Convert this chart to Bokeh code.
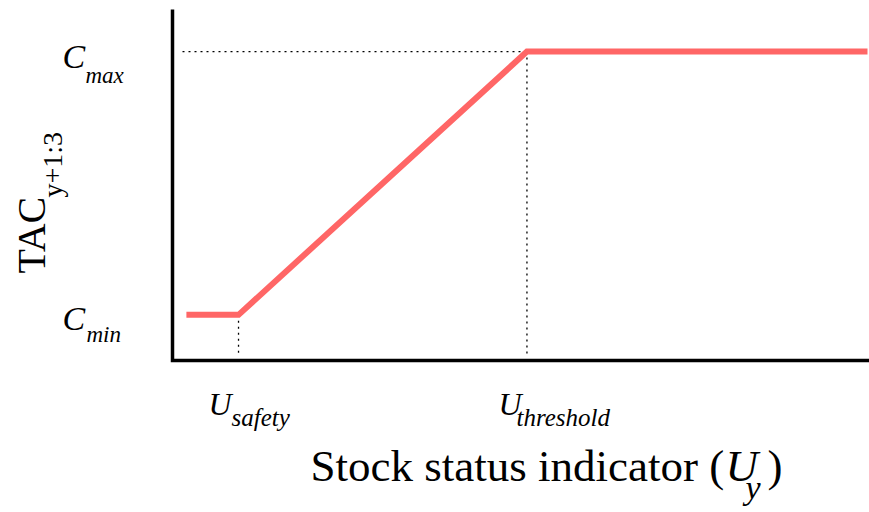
import math
from bokeh.plotting import figure
from bokeh.models import Label, Range1d
from bokeh.embed import file_html
from bokeh.resources import INLINE

# ---- data (conceptual harvest control rule) ----
policy_x = [0.2, 0.95, 5.1, 10.0]
policy_y = [1.3, 1.3, 8.8, 8.8]
u_safety = 0.95
u_threshold = 5.1
c_min = 1.3
c_max = 8.8

W, H = 869, 512
# layout: reference pixel positions of the data origin and scale
OX, OY = 172.0, 360.0     # pixel of (0, 0)
SX, SY = 69.5, 35.1       # pixels per data unit

x_lo, x_hi = -OX / SX, (W - OX) / SX
y_lo, y_hi = -(H - OY) / SY, OY / SY

p = figure(width=W, height=H, output_backend="svg", toolbar_location=None,
           x_range=Range1d(x_lo, x_hi), y_range=Range1d(y_lo, y_hi),
           min_border=0)
p.background_fill_color = "white"
p.border_fill_color = "white"
p.outline_line_color = None
p.grid.visible = False
p.axis.visible = False

def dx(px):
    return (px - OX) / SX
def dy(py):
    return (OY - py) / SY

# axis lines
y_top = dy(9)
p.line([0, 0, x_hi], [y_top, 0, 0], line_color="black", line_width=3.5, line_join="miter")

# guide lines (dotted)
g0 = dy(355)
gx0 = dx(182)
p.line([gx0, u_threshold], [c_max, c_max], line_color="black", line_width=1.3, line_dash="2 4")
p.line([u_safety, u_safety], [c_min, g0], line_color="black", line_width=1.3, line_dash="2 4")
p.line([u_threshold, u_threshold], [c_max, g0], line_color="black", line_width=1.3, line_dash="2 4")

# policy line
p.line(policy_x, policy_y, line_color="#ff6666", line_width=6, line_join="miter")

FONT = "Liberation Serif"
BL = 0.35  # baseline correction (em)

def lab(x, y, text, size, italic=False, angle=0.0):
    if angle == 0.0:
        y = y - BL * size
    else:
        x = x - BL * size
    p.add_layout(Label(x=dx(x), y=dy(y), text=text, text_font=FONT,
                       text_font_size=f"{size}px",
                       text_font_style="italic" if italic else "normal",
                       text_baseline="alphabetic", text_align="left",
                       angle=angle, text_color="black"))

# y tick-like labels
lab(62, 68, "C", 34, True)
lab(85, 83, "max", 23, True)
lab(62, 330, "C", 34, True)
lab(86, 342, "min", 23, True)
# x tick-like labels
lab(208, 415, "U", 32, True)
lab(231, 426, "safety", 25, True)
lab(498, 415, "U", 32, True)
lab(516, 426, "threshold", 25, True)

# x axis title
X0 = 310
FS = 45
lab(X0, 481, "Stock status indicator (", FS)
UX = X0 + 415
lab(UX, 481, "U", FS, True)
lab(UX + 20, 499, "y", 34, True)
lab(UX + 42, 481, ")", FS)

# y axis title (rotated)
lab(45, 273, "TAC", 40, False, math.pi / 2)
lab(62, 197, "y+1:3", 28, False, math.pi / 2)

open("out.html", "w").write(file_html(p, INLINE))
